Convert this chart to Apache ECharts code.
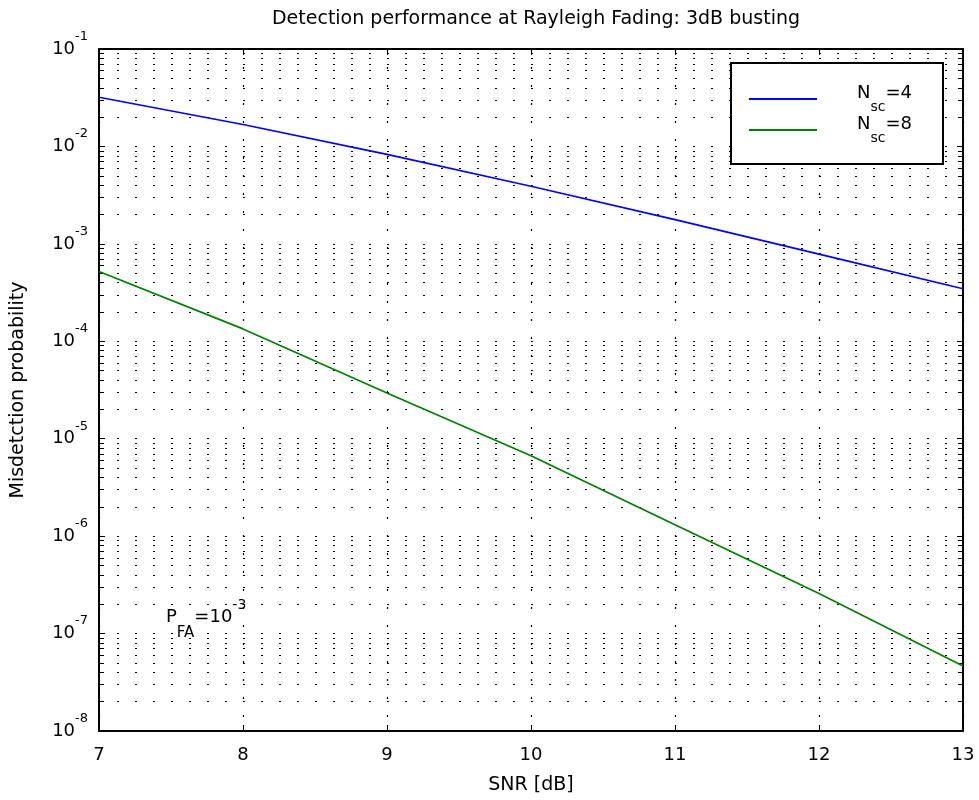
<!DOCTYPE html>
<html>
<head>
<meta charset="utf-8">
<script src="https://cdn.jsdelivr.net/npm/echarts@6/dist/echarts.min.js"></script>
<style>html,body{margin:0;padding:0;background:#fff}#c{width:979px;height:800px}</style>
</head>
<body>
<div id="c"></div>
<script>
// ---- data ----
const snrDb = [7, 8, 9, 10, 11, 12, 13];
const pmdNsc4 = [3.2e-2, 1.68e-2, 8.3e-3, 3.9e-3, 1.77e-3, 7.85e-4, 3.46e-4];
const pmdNsc8 = [5.2e-4, 1.34e-4, 2.95e-5, 6.7e-6, 1.31e-6, 2.58e-7, 4.65e-8];
const xTickValues = [7, 8, 9, 10, 11, 12, 13];
const yDecadeExponents = [-8, -7, -6, -5, -4, -3, -2, -1];
const seriesNames = ['Nsc=4', 'Nsc=8'];
const titleText = 'Detection performance at Rayleigh Fading: 3dB busting';
const xName = 'SNR [dB]';
const yName = 'Misdetction probability';

const FONT = 'DejaVu Sans';
const xMin = xTickValues[0], xMax = xTickValues[xTickValues.length - 1];
const yMin = Math.pow(10, yDecadeExponents[0]);
const yMax = Math.pow(10, yDecadeExponents[yDecadeExponents.length - 1]);

// minor (2..9 x 10^k) values for grid lines
const minorVals = [];
for (let i = 0; i < yDecadeExponents.length - 1; i++) {
  for (let k = 2; k <= 9; k++) minorVals.push(k * Math.pow(10, yDecadeExponents[i]));
}
const dotted = [2, 16];
const tickLen = 0.035;

const chart = echarts.init(document.getElementById('c'), null, {renderer: 'canvas'});
const option = {
  animation: false,
  backgroundColor: '#fff',
  title: {
    text: titleText, left: 531, top: 5, textAlign: 'center',
    textStyle: {fontFamily: FONT, fontSize: 19, fontWeight: 'normal', color: '#000'}
  },
  grid: {left: 99, right: 16, top: 49, bottom: 68, containLabel: false},
  legend: {
    data: seriesNames, orient: 'vertical', left: 731, top: 63,
    icon: 'rect', itemWidth: 68, itemHeight: 2, itemGap: 1,
    padding: [21, 31, 19, 18], borderColor: '#000', borderWidth: 2,
    backgroundColor: '#fff', selectedMode: false,
    formatter: function (name) {
      return '{sp| }{n|N}{sub|sc}{n|=' + name.split('=')[1] + '}';
    },
    textStyle: {
      fontFamily: FONT, color: '#000',
      rich: {
        sp: {width: 35, fontSize: 18, lineHeight: 30},
        n: {fontFamily: FONT, fontSize: 18, lineHeight: 18, verticalAlign: 'top', color: '#000'},
        sub: {fontFamily: FONT, fontSize: 14, lineHeight: 14, verticalAlign: 'bottom', color: '#000'}
      }
    }
  },
  xAxis: [{
    type: 'value', min: xMin, max: xMax, interval: 1,
    name: xName, nameLocation: 'middle', nameGap: 45,
    nameTextStyle: {fontFamily: FONT, fontSize: 19, color: '#000'},
    axisLine: {show: true, lineStyle: {color: '#000', width: 2}},
    axisTick: {show: true, inside: true, length: 6, lineStyle: {color: '#000', width: 1}},
    axisLabel: {fontFamily: FONT, fontSize: 18, color: '#000', margin: 15},
    splitLine: {show: true, lineStyle: {color: '#000', width: 1.2, type: dotted}}
  }, {
    type: 'value', min: xMin, max: xMax, interval: 1, position: 'top',
    axisLine: {show: true, lineStyle: {color: '#000', width: 2}},
    axisTick: {show: true, inside: true, length: 6, lineStyle: {color: '#000'}},
    axisLabel: {show: false}, splitLine: {show: false}
  }],
  yAxis: [{
    type: 'log', logBase: 10, min: yMin, max: yMax,
    name: yName, nameLocation: 'middle', nameGap: 71, nameRotate: 90,
    nameTextStyle: {fontFamily: FONT, fontSize: 19, color: '#000'},
    axisLine: {show: true, lineStyle: {color: '#000', width: 2}},
    axisTick: {show: true, inside: true, length: 6, lineStyle: {color: '#000'}},
    axisLabel: {
      margin: 11,
      formatter: function (v) {
        const e = Math.round(Math.log10(v));
        return '{b|10}{s|' + e + '}';
      },
      rich: {
        b: {fontFamily: FONT, fontSize: 18, lineHeight: 38, verticalAlign: 'middle', color: '#000'},
        s: {fontFamily: FONT, fontSize: 13, lineHeight: 14, verticalAlign: 'top', color: '#000'}
      }
    },
    splitLine: {show: true, lineStyle: {color: '#000', width: 1.2, type: dotted}}
  }, {
    type: 'log', logBase: 10, min: yMin, max: yMax, position: 'right',
    axisLine: {show: true, lineStyle: {color: '#000', width: 2}},
    axisTick: {show: true, inside: true, length: 6, lineStyle: {color: '#000'}},
    axisLabel: {show: false}, splitLine: {show: false}
  }],
  graphic: [{
    type: 'text', left: 166, top: 593, z: 10,
    style: {
      text: '{p|P}{sub|FA}{p|=10}{sup|-3}',
      rich: {
        p: {fontFamily: FONT, fontSize: 18, lineHeight: 48, verticalAlign: 'middle', fill: '#000'},
        sub: {fontFamily: FONT, fontSize: 15, lineHeight: 8, verticalAlign: 'bottom', fill: '#000'},
        sup: {fontFamily: FONT, fontSize: 14, lineHeight: 16, padding: [5, 0, 0, 0], verticalAlign: 'top', fill: '#000'}
      }
    }
  }],
  series: [
    {
      name: 'minorGrid', type: 'lines', coordinateSystem: 'cartesian2d',
      xAxisIndex: 0, yAxisIndex: 0, z: 1, silent: true,
      lineStyle: {color: '#000', width: 1.2, type: dotted, opacity: 1},
      data: minorVals.map(v => ({coords: [[xMin, v], [xMax, v]]}))
    },
    {
      name: 'minorTicks', type: 'lines', coordinateSystem: 'cartesian2d',
      xAxisIndex: 0, yAxisIndex: 0, z: 2, silent: true,
      lineStyle: {color: '#000', width: 1, type: 'solid', opacity: 1},
      data: minorVals.flatMap(v => [
        {coords: [[xMin, v], [xMin + tickLen, v]]},
        {coords: [[xMax - tickLen, v], [xMax, v]]}
      ])
    },
    {
      name: seriesNames[0], type: 'line', z: 5,
      data: snrDb.map((x, i) => [x, pmdNsc4[i]]),
      showSymbol: false, symbol: 'none',
      itemStyle: {color: '#0000ff'},
      lineStyle: {color: '#0000ff', width: 1.7}
    },
    {
      name: seriesNames[1], type: 'line', z: 5,
      data: snrDb.map((x, i) => [x, pmdNsc8[i]]),
      showSymbol: false, symbol: 'none',
      itemStyle: {color: '#008000'},
      lineStyle: {color: '#008000', width: 1.7}
    }
  ]
};
chart.setOption(option);
</script>
</body>
</html>
